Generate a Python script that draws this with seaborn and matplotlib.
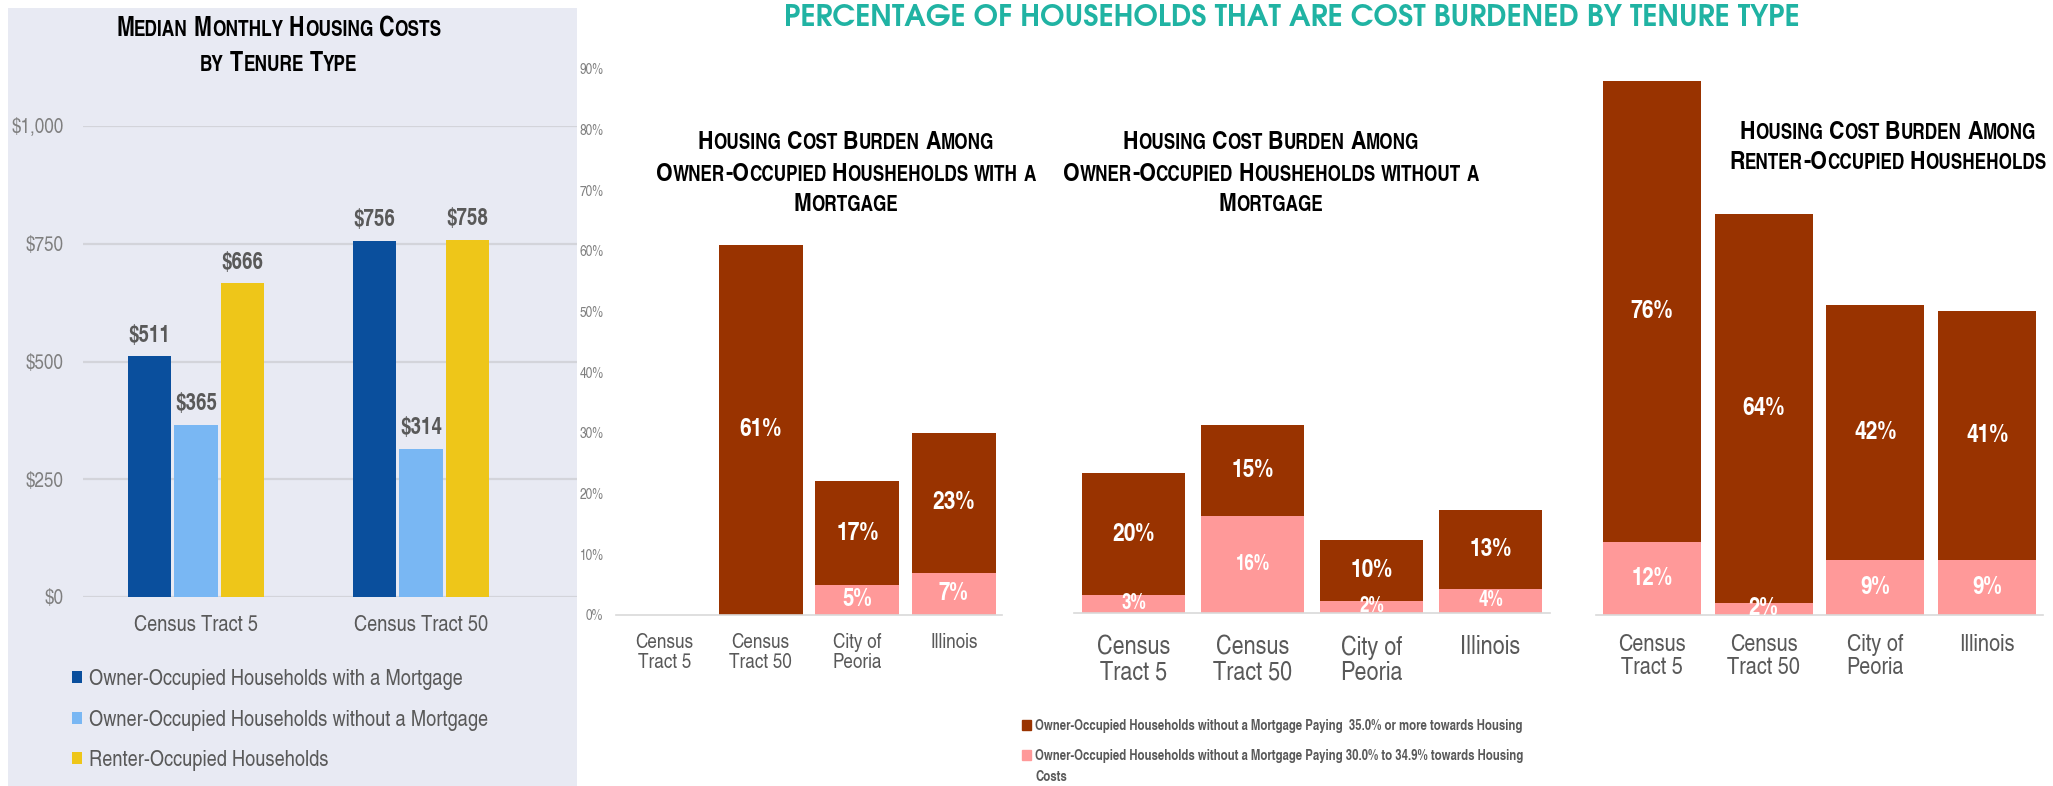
import numpy as np
import pandas as pd
import matplotlib
matplotlib.use("Agg")
import matplotlib.pyplot as plt
from matplotlib import font_manager as fm
from matplotlib.font_manager import FontProperties
from matplotlib.patches import Rectangle, Patch
from matplotlib.ticker import FixedLocator, FuncFormatter
from matplotlib.ft2font import FT2Font
import seaborn as sns

try:
    from matplotlib.ft2font import LoadFlags
    NO_HINT = LoadFlags.NO_HINTING
except ImportError:  # older matplotlib
    from matplotlib.ft2font import LOAD_NO_HINTING as NO_HINT

# ---------------- data ----------------
tracts = ["Census Tract 5", "Census Tract 50"]
tenure_types = [
    "Owner-Occupied Households with a Mortgage",
    "Owner-Occupied Households without a Mortgage",
    "Renter-Occupied Households",
]
cost_with_mortgage = [511, 756]
cost_without_mortgage = [365, 314]
cost_renter = [666, 758]
cost_ticks = [0, 250, 500, 750, 1000]

places = ["Census\nTract 5", "Census\nTract 50", "City of\nPeoria", "Illinois"]
with_mortgage_35_plus = [np.nan, 61, 17, 23]
with_mortgage_30_to_35 = [np.nan, 0, 5, 7]
without_mortgage_35_plus = [20, 15, 10, 13]
without_mortgage_30_to_35 = [3, 16, 2, 4]
renter_35_plus = [76, 64, 42, 41]
renter_30_to_35 = [12, 2, 9, 9]
pct_ticks = [0, 10, 20, 30, 40, 50, 60, 70, 80, 90]

burden_labels = [
    "Owner-Occupied Households without a Mortgage Paying  35.0% or more towards Housing",
    "Owner-Occupied Households without a Mortgage Paying 30.0% to 34.9% towards Housing\nCosts",
]

# ---------------- style ----------------
BLUE, LBLUE, YELLOW = "#0A4F9D", "#79B7F3", "#EEC619"
DARK, PINK = "#993300", "#FF9999"
TEAL = "#20B3A3"
PANEL_BG = "#E8EAF3"
GRID = "#D3D4DA"
TXT = "#595959"
TICK = "#7F7F7F"

sns.set_style("white")
NARROW = "TeX Gyre Heros Cn"
GEOMETRIC = "TeX Gyre Adventor"
plt.rcParams["font.family"] = [NARROW, "Liberation Sans", "DejaVu Sans"]

W, H = 2053, 786
fig = plt.figure(figsize=(W / 100, H / 100), dpi=100)
fig.patch.set_facecolor("white")


def fx(px):
    return px / W


def fy(py):
    return 1 - py / H


def axes_px(left, top, right, bottom):
    return fig.add_axes([fx(left), fy(bottom), (right - left) / W, (bottom - top) / H])


def advance(text, fp):
    font = FT2Font(fm.findfont(fp), hinting_factor=1)
    font.set_size(fp.get_size_in_points(), fig.dpi)
    return sum(font.load_char(ord(c), flags=NO_HINT).linearHoriAdvance / 65536 for c in text)


def smallcaps(xc, ymid, text, size, ratio=0.8, family=NARROW, color="black"):
    """Bold small-caps line centred at (xc, ymid) in pixels."""
    runs = []
    for ch in text:
        small = ch.islower()
        if runs and runs[-1][1] == small:
            runs[-1][0] += ch.upper()
        else:
            runs.append([ch.upper(), small])
    props = [FontProperties(family=family, weight="bold", size=size * (ratio if s else 1))
             for _, s in runs]
    widths = [advance(t, p) for (t, _), p in zip(runs, props)]
    x = xc - sum(widths) / 2
    base = ymid + 0.718 * size * fig.dpi / 72 / 2
    for (t, _), p, w in zip(runs, props, widths):
        fig.text(fx(x), fy(base), t, fontproperties=p, color=color, ha="left", va="baseline")
        x += w


# ---------------- left panel: median monthly costs ----------------
fig.add_artist(Rectangle((fx(8), 0), (577 - 8) / W, fy(8), transform=fig.transFigure,
                         facecolor=PANEL_BG, edgecolor="none", zorder=0))

cost_df = pd.DataFrame({
    "tract": tracts * 3,
    "tenure": np.repeat(tenure_types, len(tracts)),
    "cost": cost_with_mortgage + cost_without_mortgage + cost_renter,
})

ax0 = axes_px(83, 126, 577, 597)
ax0.set_facecolor("none")
sns.barplot(data=cost_df, x="tract", y="cost", hue="tenure", hue_order=tenure_types,
            order=tracts, palette=[BLUE, LBLUE, YELLOW], width=0.62, gap=0.06,
            saturation=1, linewidth=0, ax=ax0)
ax0.set_xlim(-0.502, 1.693)
ax0.set_ylim(0, 1000)
ax0.yaxis.set_major_locator(FixedLocator(cost_ticks))
ax0.yaxis.set_major_formatter(FuncFormatter(lambda v, p: f"${v:,.0f}"))
ax0.grid(axis="y", color=GRID, linewidth=1.6)
ax0.set_axisbelow(True)
for s in ax0.spines.values():
    s.set_visible(False)
ax0.set_xlabel("")
ax0.set_ylabel("")
ax0.tick_params(axis="y", length=0, pad=14, labelsize=15, labelcolor=TICK)
ax0.tick_params(axis="x", length=0, pad=13, labelsize=16, labelcolor=TXT)
for c in ax0.containers:
    ax0.bar_label(c, labels=[f"${v:,.0f}" for v in c.datavalues], padding=7,
                  fontsize=16.5, fontweight="bold", color=TXT)

handles, labels = ax0.get_legend_handles_labels()
ax0.get_legend().remove()
fig.legend(handles, labels, loc="upper left", bbox_to_anchor=(fx(72), fy(669)),
           frameon=False, prop=FontProperties(family=NARROW, size=16), labelcolor=TXT,
           handlelength=0.46, handleheight=0.46, handletextpad=0.32, labelspacing=0.88,
           borderpad=0, borderaxespad=0)

smallcaps(279, 27, "Median Monthly Housing Costs", 19)
smallcaps(279, 62, "by Tenure Type", 19)

# ---------------- right panels: cost burden ----------------
fig.text(fx(1292), fy(18), "PERCENTAGE OF HOUSEHOLDS THAT ARE COST BURDENED BY TENURE TYPE",
         ha="center", va="center", color=TEAL, fontsize=21, fontweight="bold",
         family=[GEOMETRIC, "DejaVu Sans"])

panels = [
    dict(box=(616, 1002, 615), width=0.87, high=with_mortgage_35_plus, low=with_mortgage_30_to_35,
         xsize=15, xpad=13, low_size=18, ticks=True,
         title=["Housing Cost Burden Among", "Owner-Occupied Housheholds with a", "Mortgage"],
         tx=846, ty=[140, 172, 202]),
    dict(box=(1074, 1550, 613), width=0.866, high=without_mortgage_35_plus,
         low=without_mortgage_30_to_35, xsize=19, xpad=16, low_size=15, ticks=False,
         title=["Housing Cost Burden Among", "Owner-Occupied Housheholds without a", "Mortgage"],
         tx=1271, ty=[140, 172, 202]),
    dict(box=(1596, 2043, 615), width=0.875, high=renter_35_plus, low=renter_30_to_35,
         xsize=17.5, xpad=14, low_size=18, ticks=False,
         title=["Housing Cost Burden Among", "Renter-Occupied Housheholds"],
         tx=1888, ty=[130, 160]),
]

PX_PER_PCT = 6.07
for p in panels:
    left, right, base = p["box"]
    ax = axes_px(left, base - 90 * PX_PER_PCT, right, base)
    ax.set_facecolor("none")
    high = np.array(p["high"], dtype=float)
    low = np.array(p["low"], dtype=float)
    total = high + low
    sns.barplot(x=places, y=total, order=places, color=DARK, saturation=1,
                width=p["width"], linewidth=0, ax=ax)
    sns.barplot(x=places, y=low, order=places, color=PINK, saturation=1,
                width=p["width"], linewidth=0, ax=ax)
    ax.set_xlim(-0.5, 3.5)
    ax.set_ylim(0, 90)
    for name, s in ax.spines.items():
        s.set_visible(name == "bottom")
    ax.spines["bottom"].set_color("#D9D9D9")
    ax.spines["bottom"].set_linewidth(1.2)
    ax.tick_params(axis="x", length=0, pad=p["xpad"], labelsize=p["xsize"], labelcolor=TXT)
    for t in ax.get_xticklabels():
        t.set_linespacing(1.05)
    ax.yaxis.set_major_locator(FixedLocator(pct_ticks))
    if p["ticks"]:
        ax.yaxis.set_major_formatter(FuncFormatter(lambda v, pos: f"{v:.0f}%"))
        ax.tick_params(axis="y", length=0, pad=9, labelsize=10.5, labelcolor=TICK)
    else:
        ax.tick_params(axis="y", length=0, labelleft=False)
    ax.set_xlabel("")
    ax.set_ylabel("")
    for i in range(len(places)):
        if np.isfinite(high[i]) and high[i] > 0:
            ax.text(i, low[i] + high[i] / 2, f"{high[i]:.0f}%", ha="center", va="center",
                    color="white", fontsize=18.5, fontweight="bold")
        if np.isfinite(low[i]) and low[i] > 0:
            ax.text(i, low[i] / 2, f"{low[i]:.0f}%", ha="center", va="center",
                    color="white", fontsize=p["low_size"], fontweight="bold")
    for line, y in zip(p["title"], p["ty"]):
        smallcaps(p["tx"], y, line, 18.8)

# legend rows use the first line of each label; wrapped remainder sits under its row
first_lines = [lab.split("\n")[0] for lab in burden_labels]
leg_font = FontProperties(family=NARROW, weight="bold", size=10)
fig.legend([Patch(color=DARK), Patch(color=PINK)], first_lines, loc="upper left",
           bbox_to_anchor=(fx(1022), fy(719)), frameon=False, prop=leg_font, labelcolor=TXT,
           handlelength=0.65, handleheight=0.65, handletextpad=0.3, labelspacing=1.15,
           borderpad=0, borderaxespad=0)
for lab in burden_labels:
    rest = lab.split("\n")[1:]
    if rest:
        fig.text(fx(1036), fy(777), "\n".join(rest), fontproperties=leg_font, color=TXT,
                 ha="left", va="center")

fig.savefig("out.png", dpi=100)
